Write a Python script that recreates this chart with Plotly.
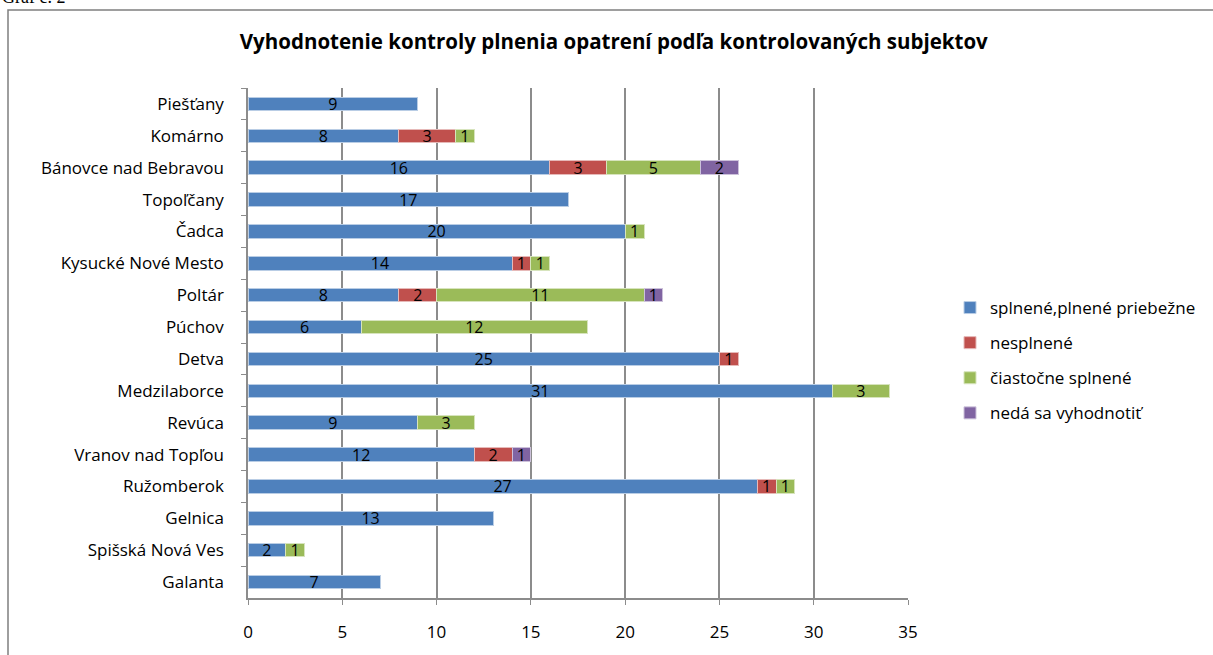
import plotly.graph_objects as go

categories = ["Piešťany", "Komárno", "Bánovce nad Bebravou", "Topoľčany", "Čadca",
              "Kysucké Nové Mesto", "Poltár", "Púchov", "Detva", "Medzilaborce",
              "Revúca", "Vranov nad Topľou", "Ružomberok", "Gelnica",
              "Spišská Nová Ves", "Galanta"]

splnene   = [9, 8, 16, 17, 20, 14, 8, 6, 25, 31, 9, 12, 27, 13, 2, 7]
nesplnene = [0, 3, 3, 0, 0, 1, 2, 0, 1, 0, 0, 2, 1, 0, 0, 0]
ciastocne = [0, 1, 5, 0, 1, 1, 11, 12, 0, 3, 3, 0, 1, 0, 1, 0]
neda      = [0, 0, 2, 0, 0, 0, 1, 0, 0, 0, 0, 1, 0, 0, 0, 0]

series_names = ["splnené,plnené priebežne", "nesplnené", "čiastočne splnené", "nedá sa vyhodnotiť"]
series_values = [splnene, nesplnene, ciastocne, neda]
colors = ["#4F81BD", "#C0504D", "#9BBB59", "#8064A2"]
edge_colors = ["#B9CDE5", "#E6B9B8", "#D7E4BD", "#CCC1DA"]

x_ticks = [0, 5, 10, 15, 20, 25, 30, 35]

FONT = "Open Sans"

fig = go.Figure()
for name, vals, col, ec in zip(series_names, series_values, colors, edge_colors):
    xs = [v if v else None for v in vals]
    fig.add_trace(go.Bar(
        y=categories, x=xs, name=name, orientation="h",
        marker=dict(color=col, line=dict(color=ec, width=1)),
        text=[str(v) if v else "" for v in vals],
        textposition="inside", insidetextanchor="middle", textangle=0,
        constraintext="none",
        textfont=dict(color="black", size=16, family=FONT),
        legendgroup=name,
    ))

W, H = 1213, 655
L, R, T, B = 248, 305, 88, 57
pw, ph = W - L - R, H - T - B

def px_x(p):
    return (p - L) / pw

def px_y(p):
    return 1 - (p - T) / ph

fig.update_layout(
    width=W, height=H,
    margin=dict(l=L, r=R, t=T, b=B, autoexpand=False),
    paper_bgcolor="white", plot_bgcolor="white",
    barmode="stack", bargap=0.58,
    uniformtext=dict(minsize=16, mode="show"),
    font=dict(family=FONT, size=16, color="black"),
    title=dict(text="<b>Vyhodnotenie kontroly plnenia opatrení podľa kontrolovaných subjektov</b>",
               x=0.506, xanchor="center", y=1 - 42 / H, yanchor="middle",
               font=dict(size=20.5, family=FONT, color="black")),
    xaxis=dict(range=[0, 35], tickvals=x_ticks, ticktext=[str(t) for t in x_ticks],
               showgrid=True, gridcolor="#8C8C8C", gridwidth=1.5,
               showline=True, linecolor="#8C8C8C", linewidth=1.5,
               ticks="outside", ticklen=5, tickcolor="#8C8C8C",
               ticklabelstandoff=13, zeroline=False,
               tickfont=dict(size=17, family=FONT)),
    yaxis=dict(autorange="reversed", showline=True, linecolor="#8C8C8C", linewidth=1.5,
               ticks="outside", ticklen=5, tickcolor="#8C8C8C", tickson="boundaries",
               ticklabelstandoff=19, showgrid=False,
               tickfont=dict(size=17, family=FONT)),
    legend=dict(x=px_x(950), y=px_y(290), xanchor="left", yanchor="top",
                traceorder="grouped", tracegroupgap=10,
                font=dict(size=17, family=FONT), itemwidth=30),
    showlegend=True,
)

# chart frame border
fig.add_shape(type="rect", xref="paper", yref="paper",
              x0=px_x(8), x1=px_x(1216), y0=px_y(660), y1=px_y(10),
              line=dict(color="#7F7F7F", width=1.5), fillcolor="rgba(0,0,0,0)", layer="below")

fig.add_annotation(text="Graf č. 2", xref="paper", yref="paper",
                   x=px_x(0), y=px_y(9), xanchor="left", yanchor="bottom",
                   showarrow=False, font=dict(family="Liberation Serif", size=18, color="black"))

fig.write_html("out.html", config={"displayModeBar": False},
               post_script="document.body.style.margin='0';")
